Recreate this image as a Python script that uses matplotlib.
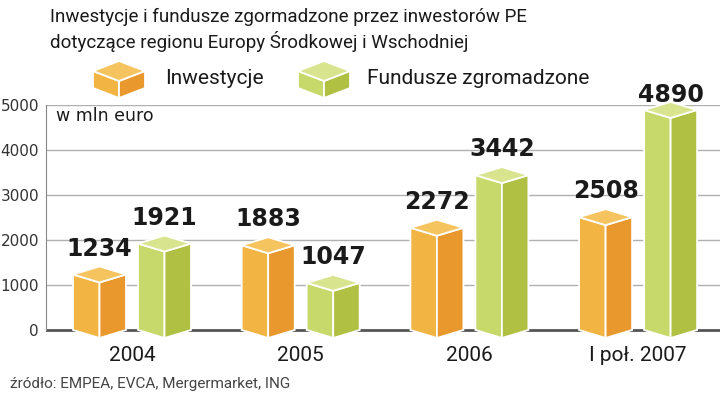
import numpy as np
import matplotlib.pyplot as plt
from matplotlib.patches import Polygon

categories = ["2004", "2005", "2006", "I poł. 2007"]
inwestycje = [1234, 1883, 2272, 2508]
fundusze = [1921, 1047, 3442, 4890]
series_names = ["Inwestycje", "Fundusze zgromadzone"]
yticks = [0, 1000, 2000, 3000, 4000, 5000]

title = ("Inwestycje i fundusze zgormadzone przez inwestorów PE\n"
         "dotyczące regionu Europy Środkowej i Wschodniej")
unit = "w mln euro"
source = "źródło: EMPEA, EVCA, Mergermarket, ING"

NARROW = ["Roboto", "DejaVu Sans"]

# colours: (front/left, right, top)
orange = ("#f2b443", "#e8982c", "#f6c45f")
green = ("#c8d96b", "#afc043", "#d8e58e")

W, H = 720, 399
fig = plt.figure(figsize=(W / 100, H / 100), dpi=100)

# axes: 0 at y=330 px, 5000 at y=105 px, 45 px per 1000
px_per_unit = 0.045
ymin = -15 / px_per_unit
ax = fig.add_axes([46 / W, 1 - 345 / H, 1 - 46 / W, (345 - 105) / H])
ax.set_ylim(ymin, 5000)
grp = 168.7  # px between groups
ax.set_xlim((46 - 132) / grp, (720 - 132) / grp)

bw = 53 / grp
gap = 6 / grp
dy = 8 / px_per_unit  # perspective drop of the front edge


def bar3d(ax, x0, v, cols):
    x1 = x0 + bw
    xm = (x0 + x1) / 2
    left = [(x0, 0), (xm, -dy), (xm, v - dy), (x0, v)]
    right = [(xm, -dy), (x1, 0), (x1, v), (xm, v - dy)]
    top = [(x0, v), (xm, v - dy), (x1, v), (xm, v + dy)]
    for pts, c in zip((left, right, top), cols):
        ax.add_patch(Polygon(pts, closed=True, facecolor=c, edgecolor="white",
                             linewidth=1.3, clip_on=False, zorder=3))


x = np.arange(len(categories))
for i in x:
    for vals, cols, sign in ((inwestycje, orange, -1), (fundusze, green, 1)):
        v = vals[i]
        x0 = i - gap - bw if sign < 0 else i + gap
        bar3d(ax, x0, v, cols)
        ax.text(x0 + bw / 2, min(v + 420, 5070), f"{v}", ha="center", va="baseline",
                fontsize=17, fontweight="bold", color="#1a1a1a", zorder=4)

for t in yticks[1:]:
    ax.axhline(t, color="#b0b0b0", lw=1, zorder=1)
ax.axhline(0, color="#555555", lw=2, zorder=1)

for s in ("top", "right", "bottom"):
    ax.spines[s].set_visible(False)
ax.spines["left"].set_bounds(0, 5000)
ax.spines["left"].set_color("#888888")
ax.set_yticks(yticks)
ax.set_yticklabels([str(t) for t in yticks], fontsize=11, color="#333333")
ax.tick_params(axis="y", length=0, pad=5)
ax.set_xticks(x)
ax.set_xticklabels(categories, family=NARROW, fontsize=15, color="#1a1a1a")
ax.tick_params(axis="x", length=0, pad=1)
ax.text(0.015, 0.955, unit, transform=ax.transAxes, fontsize=12.5,
        color="#1a1a1a", va="center")

# overlay in pixel coordinates for title, legend and source
ov = fig.add_axes([0, 0, 1, 1])
ov.set_xlim(0, W)
ov.set_ylim(H, 0)
ov.axis("off")
ov.patch.set_alpha(0)

ov.text(50, 48, title, family=NARROW, fontsize=13.5, color="#1a1a1a",
        va="baseline", linespacing=1.3)


def cube(ov, cx, t, cols, w=52, d=10, fh=17):
    xl, xr = cx - w / 2, cx + w / 2
    top = [(xl, t + d), (cx, t + 2 * d), (xr, t + d), (cx, t)]
    left = [(xl, t + d), (cx, t + 2 * d), (cx, t + 2 * d + fh), (xl, t + d + fh)]
    right = [(cx, t + 2 * d), (xr, t + d), (xr, t + d + fh), (cx, t + 2 * d + fh)]
    for pts, c in zip((left, right, top), cols):
        ov.add_patch(Polygon(pts, closed=True, facecolor=c, edgecolor="white", lw=1.3))


cube(ov, 119, 61, orange)
ov.text(165, 78, series_names[0], family=NARROW, fontsize=15, color="#1a1a1a", va="center")
cube(ov, 324, 61, green)
ov.text(367, 78, series_names[1], family=NARROW, fontsize=15, color="#1a1a1a", va="center")

ov.text(10, 384, source, family=NARROW, fontsize=11, color="#444444", va="center")

fig.savefig("out.png", dpi=100)
